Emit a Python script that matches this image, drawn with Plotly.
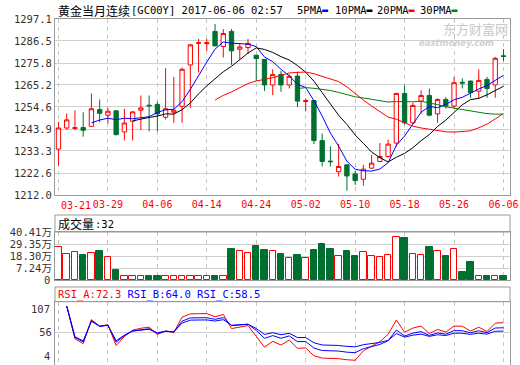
import numpy as np
import pandas as pd
import plotly.graph_objects as go

W, H = 520, 365

# ---------------- data ----------------
dates = ["2017-03-21", "2017-03-22", "2017-03-23", "2017-03-24", "2017-03-27", "2017-03-28",
         "2017-03-29", "2017-03-30", "2017-03-31", "2017-04-03", "2017-04-04", "2017-04-05",
         "2017-04-06", "2017-04-07", "2017-04-10", "2017-04-11", "2017-04-12", "2017-04-13",
         "2017-04-14", "2017-04-17", "2017-04-18", "2017-04-19", "2017-04-20", "2017-04-21",
         "2017-04-24", "2017-04-25", "2017-04-26", "2017-04-27", "2017-04-28", "2017-05-01",
         "2017-05-02", "2017-05-03", "2017-05-04", "2017-05-05", "2017-05-08", "2017-05-09",
         "2017-05-10", "2017-05-11", "2017-05-12", "2017-05-15", "2017-05-16", "2017-05-17",
         "2017-05-18", "2017-05-19", "2017-05-22", "2017-05-23", "2017-05-24", "2017-05-25",
         "2017-05-26", "2017-05-30", "2017-05-31", "2017-06-01", "2017-06-02", "2017-06-05",
         "2017-06-06"]
opens = [1234.2, 1244.4, 1244.2, 1244.6, 1245.2, 1253.3, 1250.6, 1252.7, 1242.5, 1247.7,
         1253.0, 1255.4, 1255.8, 1249.6, 1252.0, 1254.9, 1274.9, 1285.3, 1285.2, 1291.1,
         1283.8, 1291.1, 1282.5, 1283.3, 1279.6, 1277.6, 1265.2, 1270.3, 1265.2, 1269.5,
         1257.2, 1257.7, 1238.3, 1228.4, 1223.3, 1226.6, 1222.2, 1219.6, 1225.0, 1228.2,
         1230.6, 1237.1, 1261.1, 1246.9, 1257.4, 1260.1, 1251.2, 1258.2, 1255.0, 1266.5,
         1267.1, 1262.2, 1267.9, 1265.2, 1279.3]
highs = [1247.3, 1251.4, 1252.9, 1252.0, 1261.1, 1258.2, 1254.1, 1253.0, 1253.7, 1252.4,
         1260.1, 1260.1, 1257.1, 1273.3, 1269.1, 1273.6, 1285.0, 1287.4, 1287.4, 1294.7,
         1292.2, 1292.2, 1285.3, 1287.4, 1279.7, 1277.7, 1272.8, 1272.0, 1270.4, 1271.6,
         1258.7, 1257.8, 1241.7, 1235.5, 1236.6, 1226.7, 1223.7, 1226.6, 1231.4, 1237.1,
         1238.7, 1261.4, 1265.0, 1256.6, 1262.6, 1263.5, 1258.7, 1259.3, 1269.1, 1268.4,
         1267.2, 1272.8, 1269.1, 1278.8, 1282.5]
lows = [1226.3, 1243.6, 1243.6, 1240.2, 1244.9, 1247.2, 1246.5, 1240.8, 1238.4, 1238.4,
        1243.3, 1242.8, 1242.8, 1248.5, 1246.9, 1246.9, 1254.1, 1271.2, 1281.7, 1284.0,
        1278.5, 1274.9, 1277.6, 1280.1, 1267.1, 1262.3, 1260.3, 1261.9, 1263.5, 1254.5,
        1252.5, 1236.6, 1225.8, 1225.8, 1220.9, 1214.1, 1216.9, 1216.5, 1224.6, 1227.9,
        1230.1, 1235.5, 1246.0, 1246.5, 1251.4, 1250.1, 1246.9, 1253.8, 1254.1, 1263.5,
        1259.0, 1258.7, 1259.0, 1259.0, 1276.8]
closes = [1244.4, 1248.3, 1244.5, 1243.3, 1253.7, 1251.5, 1252.5, 1241.2, 1246.8, 1252.2,
          1254.1, 1255.1, 1251.2, 1253.7, 1253.0, 1272.8, 1284.6, 1285.6, 1285.6, 1284.1,
          1290.1, 1281.7, 1283.6, 1285.3, 1278.0, 1265.2, 1270.2, 1265.2, 1269.4, 1257.4,
          1257.6, 1238.3, 1228.2, 1228.1, 1225.8, 1221.2, 1219.0, 1224.5, 1227.4, 1230.6,
          1236.6, 1261.1, 1246.9, 1255.3, 1260.1, 1250.6, 1258.2, 1255.0, 1266.3, 1266.1,
          1261.5, 1267.4, 1263.5, 1278.1, 1279.0]
volumes = [26.5, 20.1, 22.0, 19.2, 21.1, 23.1, 18.0, 5.9, 0.05, 0.05,
           0.05, 0.05, 0.05, 0.05, 0.05, 0.05, 0.05, 0.05, 0.05, 0.05,
           0.05, 25.0, 22.9, 21.3, 27.7, 24.0, 22.9, 20.4, 16.5, 19.5,
           16.5, 24.0, 29.5, 25.0, 18.3, 23.1, 18.6, 22.0, 18.3, 17.4,
           19.2, 35.6, 34.7, 20.4, 19.2, 26.8, 22.9, 18.6, 24.7, 4.3,
           13.4, 0.05, 0.05, 0.05, 0.0032]  # 万

tick_dates = ["2017-03-21", "2017-03-29", "2017-04-06", "2017-04-14", "2017-04-24",
              "2017-05-02", "2017-05-10", "2017-05-18", "2017-05-26", "2017-06-06"]
tick_labels = ["03-21", "03-29", "04-06", "04-14", "04-24", "05-02", "05-10", "05-18",
               "05-26", "06-06"]
price_ticks = [1212.0, 1222.6, 1233.3, 1243.9, 1254.6, 1265.2, 1275.8, 1286.5, 1297.1]
vol_ticks = [0, 7.24, 18.30, 29.35, 40.41]
vol_tick_labels = ["0", "7.24万", "18.30万", "29.35万", "40.41万"]
rsi_ticks = [4, 56, 107]

ma_periods = [5, 10, 20, 30]
ma_names = ["5PMA", "10PMA", "20PMA", "30PMA"]
ma_colors = ["#0000ff", "#000000", "#ff0000", "#008000"]
rsi_periods = [6, 12, 24]
rsi_names = ["RSI_A", "RSI_B", "RSI_C"]
rsi_shown = [72.3, 64.0, 58.5]
rsi_colors = ["#ff0000", "#0000ff", "#0000ff"]
volume_name = "成交量"
volume_last = "32"
title_name = "黄金当月连续"
title_code = "[GC00Y] 2017-06-06 02:57"

# ---------------- styles ----------------
RED = "#ff0000"
GREEN = "#007030"
FRAME = "#9a9a9a"
GRID = "#cfcfcf"
VGRID = "#c4c4c4"
TXT = "#333333"
MONO = "DejaVu Sans Mono"
CJK = "Noto Sans CJK SC"
VOL_FLOOR = -3.2

def px(x):
    return x / W

def py(y):
    return 1 - y / H

XD = [px(55), px(510)]
MAIN_D = [py(195), py(19)]
VOL_D = [py(280), py(232)]
RSI_D = [py(364.5), py(301.7)]

up = [c >= o for o, c in zip(opens, closes)]

# ---------------- indicators ----------------
cs = pd.Series(closes)
mas = [cs.rolling(n).mean() for n in ma_periods]

diff = cs.diff().fillna(0.0).to_numpy()

def tdx_sma(x, n):
    out, y = [], 0.0
    for v in x:
        y = (v + (n - 1) * y) / n
        out.append(y)
    return np.array(out)

rsis = []
for n in rsi_periods:
    u = tdx_sma(np.maximum(diff, 0), n)
    a = tdx_sma(np.abs(diff), n)
    r = 100 * u / a
    r[0] = np.nan
    rsis.append(r)

fig = go.Figure()

fig.add_trace(go.Candlestick(
    x=dates, open=opens, high=highs, low=lows, close=closes,
    increasing=dict(line=dict(color=RED, width=1), fillcolor="#ffffff"),
    decreasing=dict(line=dict(color=GREEN, width=1), fillcolor=GREEN),
    whiskerwidth=0, xaxis="x", yaxis="y", showlegend=False, hoverinfo="skip"))

for m, col in zip(mas, ma_colors):
    fig.add_trace(go.Scatter(x=dates, y=m, mode="lines", line=dict(color=col, width=1),
                             xaxis="x", yaxis="y", showlegend=False, hoverinfo="skip"))

fig.add_trace(go.Bar(
    x=dates, y=[v - VOL_FLOOR for v in volumes], base=VOL_FLOOR, width=0.78,
    marker=dict(color=["#ffffff" if u_ else GREEN for u_ in up],
                line=dict(color=[RED if u_ else GREEN for u_ in up], width=1)),
    xaxis="x2", yaxis="y2", showlegend=False, hoverinfo="skip"))

for r, col in zip(rsis, rsi_colors):
    fig.add_trace(go.Scatter(x=dates, y=r, mode="lines", line=dict(color=col, width=1),
                             xaxis="x3", yaxis="y3", showlegend=False, hoverinfo="skip"))

xcommon = dict(type="category", range=[-0.42, 54.79], domain=XD, tickvals=tick_dates,
               showgrid=True, gridcolor=VGRID, griddash="4px,4px", gridwidth=1,
               showline=True, mirror=True, linecolor=FRAME, linewidth=1, zeroline=False,
               ticks="", fixedrange=True, automargin=False)
ycommon = dict(showgrid=True, gridcolor=GRID, gridwidth=1, showline=True, mirror=True,
               linecolor=FRAME, linewidth=1, zeroline=False, ticks="", fixedrange=True,
               automargin=False, tickfont=dict(family=MONO + ", " + CJK, size=10.5, color=TXT))

fig.update_layout(
    width=W, height=H, margin=dict(l=0, r=0, t=0, b=0, pad=0, autoexpand=False), autosize=False,
    paper_bgcolor="#ffffff", plot_bgcolor="#ffffff", boxgap=0.25, bargap=0,
    xaxis=dict(**xcommon, anchor="y", ticktext=[""] + tick_labels[1:],
               tickfont=dict(family=MONO, size=10, color=RED),
               rangeslider=dict(visible=False)),
    yaxis=dict(**ycommon, domain=MAIN_D, range=[price_ticks[0], price_ticks[-1]],
               tickvals=price_ticks, ticktext=["%.1f" % t for t in price_ticks]),
    xaxis2=dict(**xcommon, anchor="y2", matches="x", showticklabels=False),
    yaxis2=dict(**ycommon, domain=VOL_D, range=[VOL_FLOOR, vol_ticks[-1]],
                tickvals=vol_ticks[1:], ticktext=vol_tick_labels[1:]),
    xaxis3=dict(**xcommon, anchor="y3", matches="x", showticklabels=False),
    yaxis3=dict(**ycommon, domain=RSI_D, range=[rsi_ticks[0], rsi_ticks[-1]],
                tickvals=[rsi_ticks[1]], ticktext=[str(rsi_ticks[1])]),
)

ann = []
def text(x, y, s, size=10.5, color="#000000", family=MONO, xanchor="left", **kw):
    ann.append(dict(x=px(x), y=py(y), xref="paper", yref="paper", text=s, showarrow=False,
                    xanchor=xanchor, yanchor="middle", font=dict(family=family, size=size, color=color),
                    **kw))

# title row
text(56, 10, title_name, size=12, family=CJK)
text(129, 10, title_code)
legend_x = [295, 333, 375, 418]
shapes = []
for lx, name, col in zip(legend_x, ma_names, ma_colors):
    text(lx, 10, name)
    w = len(name) * 6.3
    shapes.append(dict(type="rect", xref="paper", yref="paper", x0=px(lx + w + 2), x1=px(lx + w + 8),
                       y0=py(12), y1=py(9.5), line=dict(width=0), fillcolor=col))

# first date label, kept inside the panel
ann.append(dict(x=dates[0], y=py(205), xref="x", yref="paper", text=tick_labels[0], showarrow=False,
                xanchor="left", yanchor="middle", xshift=1,
                font=dict(family=MONO, size=10, color=RED)))

# volume title box
shapes.append(dict(type="rect", xref="paper", yref="paper", x0=XD[0], x1=XD[1], y0=py(232), y1=py(215),
                   line=dict(color=FRAME, width=1)))
text(56, 223.5, volume_name, size=12, family=CJK)
text(93, 223.5, ":" + volume_last)
# volume floor label (drawn at panel bottom as in the source chart)
text(52, 279.5, vol_tick_labels[0], size=10.5, color=TXT, xanchor="right")

# RSI title box
shapes.append(dict(type="rect", xref="paper", yref="paper", x0=XD[0], x1=XD[1], y0=py(301.7), y1=py(287),
                   line=dict(color=FRAME, width=1)))
rsi_txt = " ".join('<span style="color:%s">%s:%.1f</span>' % (c, n, v)
                   for n, v, c in zip(rsi_names, rsi_shown, rsi_colors))
text(56, 294.5, rsi_txt)

# RSI extreme labels
text(52, 309, str(rsi_ticks[2]), size=10.5, color=TXT, xanchor="right")
text(52, 356, str(rsi_ticks[0]), size=10.5, color=TXT, xanchor="right")

# watermark
text(441, 28, "东方财富网", size=13, family=CJK, color="#c9c9c9")
text(417, 43, "<b><i>eastmoney.com</i></b>", size=8.5, family="DejaVu Sans", color="#cfcfcf")

fig.update_layout(annotations=ann, shapes=shapes)
fig.write_html("out.html", config={"displayModeBar": False, "responsive": False},
               post_script="var gd=document.getElementById('{plot_id}');"
                           "document.documentElement.style.margin='0px';"
                           "document.documentElement.style.overflow='hidden';"
                           "document.body.style.margin='0px';"
                           "document.body.style.overflow='hidden';"
                           "gd.style.position='fixed';gd.style.left='0px';gd.style.top='0px';"
                           "window.scrollTo(0,0);")
